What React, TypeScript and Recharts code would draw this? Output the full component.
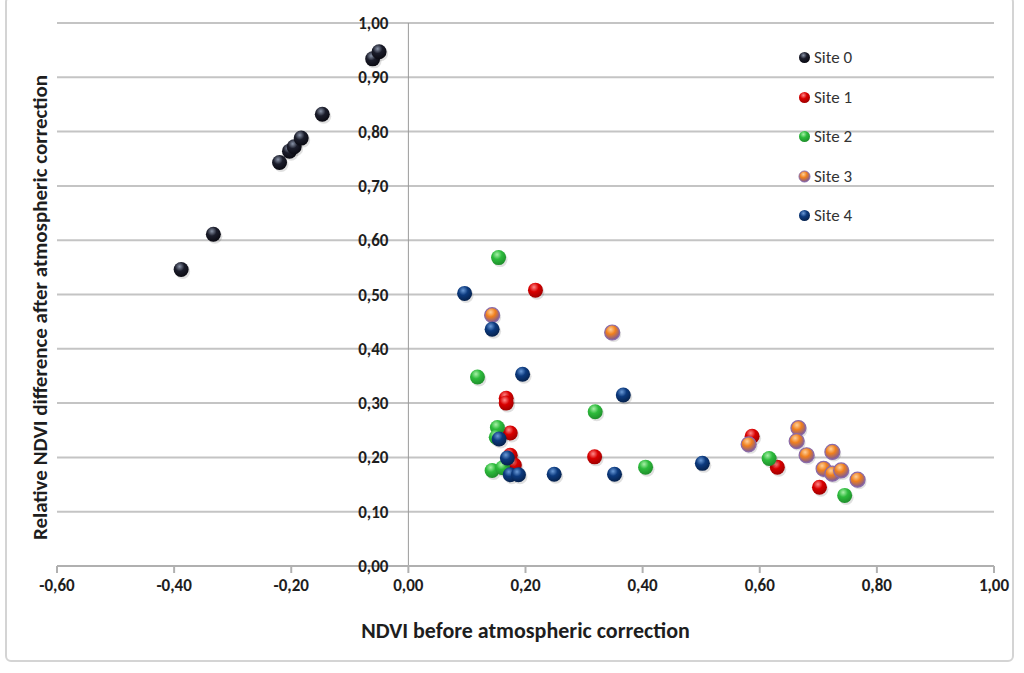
import {
  CartesianGrid,
  ReferenceLine,
  Scatter,
  ScatterChart,
  XAxis,
  YAxis,
} from "recharts";

// values
const site0 = [
  { x: -0.388, y: 0.546 },
  { x: -0.333, y: 0.611 },
  { x: -0.22, y: 0.743 },
  { x: -0.203, y: 0.764 },
  { x: -0.195, y: 0.772 },
  { x: -0.183, y: 0.788 },
  { x: -0.147, y: 0.832 },
  { x: -0.061, y: 0.934 },
  { x: -0.05, y: 0.947 },
];

const site1 = [
  { x: 0.217, y: 0.508 },
  { x: 0.167, y: 0.309 },
  { x: 0.167, y: 0.3 },
  { x: 0.174, y: 0.245 },
  { x: 0.174, y: 0.204 },
  { x: 0.181, y: 0.186 },
  { x: 0.318, y: 0.201 },
  { x: 0.587, y: 0.239 },
  { x: 0.63, y: 0.182 },
  { x: 0.702, y: 0.145 },
];

const site2 = [
  { x: 0.154, y: 0.568 },
  { x: 0.118, y: 0.348 },
  { x: 0.319, y: 0.284 },
  { x: 0.152, y: 0.255 },
  { x: 0.15, y: 0.237 },
  { x: 0.143, y: 0.176 },
  { x: 0.161, y: 0.181 },
  { x: 0.405, y: 0.182 },
  { x: 0.616, y: 0.198 },
  { x: 0.745, y: 0.13 },
];

const site3 = [
  { x: 0.143, y: 0.462 },
  { x: 0.348, y: 0.43 },
  { x: 0.581, y: 0.224 },
  { x: 0.666, y: 0.254 },
  { x: 0.663, y: 0.23 },
  { x: 0.68, y: 0.204 },
  { x: 0.724, y: 0.21 },
  { x: 0.709, y: 0.179 },
  { x: 0.724, y: 0.17 },
  { x: 0.739, y: 0.176 },
  { x: 0.767, y: 0.159 },
];

const site4 = [
  { x: 0.096, y: 0.502 },
  { x: 0.143, y: 0.436 },
  { x: 0.195, y: 0.353 },
  { x: 0.367, y: 0.315 },
  { x: 0.155, y: 0.234 },
  { x: 0.169, y: 0.199 },
  { x: 0.174, y: 0.168 },
  { x: 0.188, y: 0.168 },
  { x: 0.249, y: 0.169 },
  { x: 0.352, y: 0.169 },
  { x: 0.502, y: 0.189 },
];

const xTicks = [-0.6, -0.4, -0.2, 0, 0.2, 0.4, 0.6, 0.8, 1.0];
const yTicks = [0, 0.1, 0.2, 0.3, 0.4, 0.5, 0.6, 0.7, 0.8, 0.9, 1.0];

const sites = [
  { name: "Site 0", data: site0, color: "#1b1d2b", light: "#8a94a8", edge: "#0a0a12" },
  { name: "Site 1", data: site1, color: "#d90000", light: "#ff8a8a", edge: "#a00000" },
  { name: "Site 2", data: site2, color: "#2dbb3c", light: "#a8f0a8", edge: "#1f8f2c" },
  { name: "Site 3", data: site3, color: "#f07f1c", light: "#ffd09a", edge: "#7a5a9a" },
  { name: "Site 4", data: site4, color: "#0c3a7e", light: "#6a9ad8", edge: "#06224e" },
];

const W = 1024;
const H = 673;
const LEFT = 57;
const RIGHT = 30;
const TOP = 23;
const BOTTOM = 107;
const X_AXIS_H = 40;
const Y_AXIS_W = 20;
const X_MIN = -0.6;
const X_MAX = 1.0;
const PLOT_W = W - LEFT - RIGHT;
const X_ZERO = LEFT + (PLOT_W * (0 - X_MIN)) / (X_MAX - X_MIN);

const FONT = "Carlito, 'Liberation Sans Narrow', Lato, 'Open Sans', sans-serif";
const TEXT = "#1e1e1e";
const fmt = (v: number) => v.toFixed(2).replace(".", ",");

function ball(site: (typeof sites)[number], idx: number, r: number) {
  const id = `ball-${idx}`;
  return (props: any) => {
    const { cx, cy } = props;
    if (cx == null || cy == null) return <g />;
    return (
      <g>
        <defs>
          <radialGradient id={id} cx="40%" cy="30%" r="70%">
            <stop offset="0%" stopColor={site.light} />
            <stop offset="45%" stopColor={site.color} />
            <stop offset="100%" stopColor={site.edge} />
          </radialGradient>
        </defs>
        <circle cx={cx + 1.5} cy={cy + 2} r={r} fill="#000" opacity={0.12} />
        <circle
          cx={cx}
          cy={cy}
          r={r}
          fill={`url(#${id})`}
          stroke={idx === 3 ? "#8a6aa8" : "none"}
          strokeWidth={idx === 3 ? 1.2 : 0}
        />
      </g>
    );
  };
}

function SiteLegend() {
  return (
    <div
      style={{
        position: "absolute",
        left: 798,
        top: 38,
        fontFamily: FONT,
        fontSize: 17,
        color: "#333",
      }}
    >
      {sites.map((s, i) => (
        <div
          key={s.name}
          style={{ display: "flex", alignItems: "center", height: 39.5 }}
        >
          <svg width={13} height={13} style={{ marginRight: 3 }}>
            <defs>
              <radialGradient id={`lg-${i}`} cx="40%" cy="30%" r="70%">
                <stop offset="0%" stopColor={s.light} />
                <stop offset="45%" stopColor={s.color} />
                <stop offset="100%" stopColor={s.edge} />
              </radialGradient>
            </defs>
            <circle
              cx={6.5}
              cy={6.5}
              r={5.5}
              fill={`url(#lg-${i})`}
              stroke={i === 3 ? "#8a6aa8" : "none"}
            />
          </svg>
          <span>{s.name}</span>
        </div>
      ))}
    </div>
  );
}

const YTick = (props: any) => {
  const { y, payload } = props;
  return (
    <text
      x={X_ZERO - 20}
      y={y}
      dy={6}
      textAnchor="end"
      fontFamily={FONT}
      fontSize={17}
      fontWeight="bold"
      fill={TEXT}
    >
      {fmt(payload.value)}
    </text>
  );
};

const YTitle = (props: any) => {
  const vb = props.viewBox || {};
  const cx = 47;
  const cy = (vb.y ?? TOP) + (vb.height ?? 543) / 2 + 13;
  return (
    <text
      x={cx}
      y={cy}
      transform={`rotate(-90 ${cx} ${cy})`}
      textAnchor="middle"
      fontFamily={FONT}
      fontSize={21}
      fontWeight="bold"
      fill={TEXT}
    >
      Relative NDVI difference after atmospheric correction
    </text>
  );
};

export default function App() {
  return (
    <div
      style={{
        position: "absolute",
        left: 0,
        top: 0,
        width: W,
        height: H,
        background: "#fff",
      }}
    >
      <div
        style={{
          position: "absolute",
          left: 5,
          top: -4,
          width: 1009,
          height: 666,
          border: "2px solid #d4d4d4",
          borderRadius: 6,
          boxSizing: "border-box",
        }}
      />
      <ScatterChart
        width={W}
        height={H}
        margin={{
          top: TOP,
          right: RIGHT,
          bottom: BOTTOM - X_AXIS_H,
          left: LEFT - Y_AXIS_W,
        }}
        style={{ position: "absolute", left: 0, top: 0 }}
      >
        <CartesianGrid vertical={false} stroke="#c4c4c4" strokeWidth={2} />
        <XAxis
          type="number"
          dataKey="x"
          domain={[X_MIN, X_MAX]}
          ticks={xTicks}
          tickFormatter={fmt}
          height={X_AXIS_H}
          stroke="#b0b0b0"
          strokeWidth={2}
          tickSize={7}
          tickMargin={6}
          tick={{
            fill: TEXT,
            fontFamily: FONT,
            fontSize: 17,
            fontWeight: "bold",
          }}
          allowDataOverflow
          label={{
            value: "NDVI before atmospheric correction",
            position: "bottom",
            offset: 16,
            fill: TEXT,
            fontFamily: FONT,
            fontSize: 22,
            fontWeight: "bold",
          }}
        />
        <YAxis
          type="number"
          dataKey="y"
          domain={[0, 1]}
          ticks={yTicks}
          width={Y_AXIS_W}
          axisLine={false}
          tickLine={false}
          tick={YTick}
          allowDataOverflow
          label={{ content: YTitle, position: "insideLeft" }}
        />
        <ReferenceLine x={0} stroke="#9a9a9a" strokeWidth={1} ifOverflow="visible" />
        {sites.map((s, i) => (
          <Scatter
            key={s.name}
            name={s.name}
            data={s.data}
            fill={s.color}
            shape={ball(s, i, 7.5)}
            isAnimationActive={false}
          />
        ))}
      </ScatterChart>
      <SiteLegend />
    </div>
  );
}
